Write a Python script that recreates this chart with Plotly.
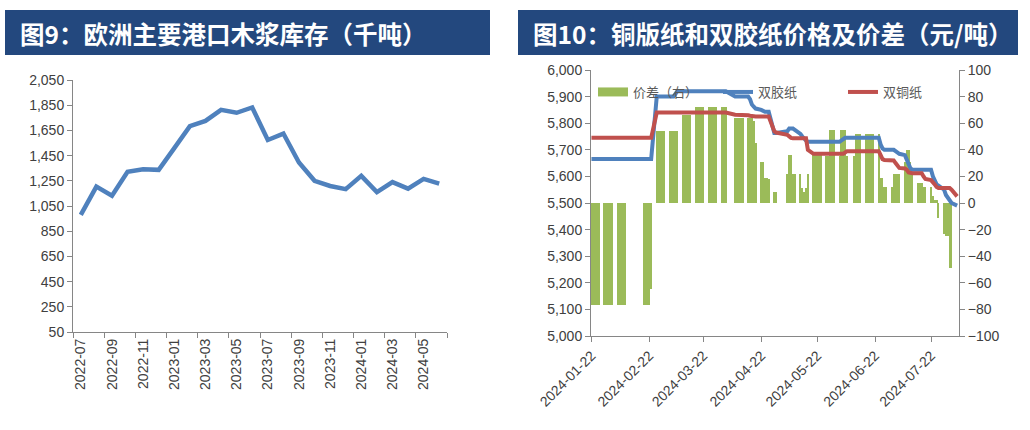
import pandas as pd
import plotly.graph_objects as go

# ---------------- Left chart data ----------------
inv_months = ["2022-07", "2022-08", "2022-09", "2022-10", "2022-11", "2022-12",
              "2023-01", "2023-02", "2023-03", "2023-04", "2023-05", "2023-06",
              "2023-07", "2023-08", "2023-09", "2023-10", "2023-11", "2023-12",
              "2024-01", "2024-02", "2024-03", "2024-04", "2024-05", "2024-06"]
inv_values = [979, 1204, 1132, 1322, 1342, 1337, 1509, 1684, 1725, 1813, 1790, 1832,
              1574, 1625, 1395, 1250, 1209, 1184, 1289, 1160, 1240, 1188, 1265, 1228]

# ---------------- Right chart data (weekdays, Mon..Fri) ----------------
N = None
spread_weeks = [
    [-77, -77, -77, -77, -77], [-77, -77, -77, -77, -77], [-77, -77, -77, -77, -77],
    [N, N, N, N, N], [-77, -77, -77, -77, -65],
    [54, 54, 54, 54, 54], [54, 54, 54, 54, 54], [66, 66, 66, 66, 66],
    [72, 72, 72, 72, 72], [72, 72, 72, 72, 72], [72, 72, 72, N, N],
    [64, 64, 64, 64, 64], [64, 64, 64, 62, 45], [31, 31, 19, 19, 18],
    [8, 8, N, N, N], [22, 36, 36, 22, 22], [22, 11, 8, 11, 22],
    [36, 36, 36, 36, 36], [35, 35, 55, 55, 55], [35, 55, 55, 55, 35],
    [N, 35, 52, 52, 52], [52, 52, 52, 52, 52], [52, 19, 19, 12, 12],
    [12, 22, 22, 22, 22], [31, 40, 40, 31, 22], [15, 15, 15, 12, 12],
    [12, 5, 2, 2, -11], [-23, -25, -25, -49, -49], [N],
]
offset_weeks = [  # 双胶纸
    [5665] * 5, [5665] * 5, [5665] * 5, [N] * 5, [5665] * 5,
    [5900] * 5, [5900, 5900, 5900, 5910, 5920], [5920] * 5, [5920] * 5, [5920] * 5,
    [5920, 5920, 5920, N, N], [5900] * 5, [5900, 5890, 5870, 5862, 5855],
    [5850, 5845, 5843, 5843, 5843], [5763, 5763, N, N, N],
    [5770, 5780, 5780, 5780, 5775], [5760, 5750, 5740, 5735, 5730],
    [5730] * 5, [5730] * 5, [5730, 5735, 5740, 5745, 5745], [N, 5745, 5745, 5745, 5745],
    [5745] * 5, [5745, 5720, 5705, 5700, 5700], [5700, 5700, 5695, 5690, 5685],
    [5680, 5660, 5640, 5630, 5625], [5625] * 5, [5625, 5600, 5580, 5570, 5565],
    [5550, 5530, 5520, 5510, 5500], [5490],
]
coated_weeks = [  # 双铜纸
    [5745] * 5, [5745] * 5, [5745] * 5, [N] * 5, [5745] * 5,
    [5840] * 5, [5840] * 5, [5840] * 5, [5840] * 5, [5840] * 5,
    [5840, 5840, 5840, N, N], [5832] * 5, [5830, 5828, 5826, 5825, 5825],
    [5825] * 5, [5770, 5765, N, N, N],
    [5756, 5750, 5745, 5743, 5743], [5743, 5743, 5743, 5743, 5700],
    [5685] * 5, [5682] * 5, [5682, 5682, 5685, 5690, 5695], [N, 5695, 5695, 5695, 5695],
    [5695] * 5, [5695, 5680, 5665, 5662, 5662], [5662, 5660, 5650, 5640, 5632],
    [5630, 5625, 5615, 5612, 5612], [5612, 5612, 5612, 5600, 5590],
    [5586, 5580, 5570, 5560, 5556], [5556, 5556, 5556, 5556, 5550], [5525],
]
price_dates = pd.bdate_range("2024-01-22", "2024-08-05")
spread = [v for w in spread_weeks for v in w]
offset_paper = [v for w in offset_weeks for v in w]
coated_paper = [v for w in coated_weeks for v in w]
date_ticks = ["2024-01-22", "2024-02-22", "2024-03-22", "2024-04-22",
              "2024-05-22", "2024-06-22", "2024-07-22"]

W, H = 1030, 430
def px_x(p):
    return p / W
def px_y(p):
    return 1 - p / H

AX = "#868686"
TXT = "#404040"
TFONT = dict(family="Liberation Sans, Arial, sans-serif", size=14, color=TXT)
TITLE_BG = "#23487E"

fig = go.Figure()

# left line
fig.add_trace(go.Scatter(
    x=list(range(len(inv_months))), y=inv_values, mode="lines",
    line=dict(color="#4F81BD", width=4.5), showlegend=False,
    xaxis="x", yaxis="y"))

# right bars
fig.add_trace(go.Bar(
    x=price_dates, y=spread, marker=dict(color="#9BBB59", line=dict(width=0)),
    width=0.6 * 86400000, showlegend=False, xaxis="x2", yaxis="y2"))
# legend stand-in for the bar series
fig.add_trace(go.Scatter(
    x=[None], y=[None], mode="lines", name="价差（右）",
    line=dict(color="#9BBB59", width=9), xaxis="x2", yaxis="y3"))
fig.add_trace(go.Scatter(
    x=price_dates, y=offset_paper, mode="lines", name="双胶纸", connectgaps=True,
    line=dict(color="#4F81BD", width=4), xaxis="x2", yaxis="y3"))
fig.add_trace(go.Scatter(
    x=price_dates, y=coated_paper, mode="lines", name="双铜纸", connectgaps=True,
    line=dict(color="#C0504D", width=4), xaxis="x2", yaxis="y3"))

common = dict(showgrid=False, zeroline=False, showline=True, linecolor=AX, linewidth=1,
              tickfont=TFONT, tickcolor=AX, automargin=False)

fig.update_layout(
    width=W, height=H, margin=dict(l=0, r=0, t=0, b=0),
    paper_bgcolor="white", plot_bgcolor="white", bargap=0,
    xaxis=dict(domain=[px_x(73), px_x(447)], range=[-0.5, len(inv_months) - 0.5],
               tickmode="array", tickvals=list(range(0, len(inv_months), 2)),
               ticktext=inv_months[::2], ticks="", tickangle=-90,
               minor=dict(tick0=-0.5, dtick=2, ticks="outside", ticklen=5, tickcolor=AX),
               anchor="y", **common),
    yaxis=dict(domain=[px_y(332), px_y(80)], range=[50, 2050], tickmode="linear",
               tick0=50, dtick=200, tickformat=",", ticks="outside", ticklen=5,
               anchor="x", **common),
    xaxis2=dict(domain=[px_x(591), px_x(959)], type="date",
                range=["2024-01-21 18:00", "2024-08-06"],
                tickmode="array", tickvals=date_ticks, ticktext=date_ticks,
                tickangle=-45, ticks="outside", ticklen=5, anchor="y2", **common),
    yaxis2=dict(domain=[px_y(336), px_y(70)], range=[-100, 100], tickmode="linear",
                tick0=-100, dtick=20, side="right", ticks="outside", ticklen=5,
                anchor="x2", **common),
    yaxis3=dict(range=[5000, 6000], tickmode="linear", tick0=5000, dtick=100,
                tickformat=",", side="left", overlaying="y2", anchor="x2",
                ticks="outside", ticklen=5, **common),
    legend=dict(orientation="h", x=px_x(593), y=px_y(77), xanchor="left", yanchor="top",
                bgcolor="rgba(0,0,0,0)", entrywidth=80,
                font=dict(family="Noto Sans CJK SC", size=13, color="#595959")),
    shapes=[
        dict(type="rect", xref="paper", yref="paper", x0=px_x(5), x1=px_x(490),
             y0=px_y(55), y1=px_y(10), fillcolor=TITLE_BG, line=dict(width=0), layer="below"),
        dict(type="rect", xref="paper", yref="paper", x0=px_x(518), x1=px_x(1018),
             y0=px_y(55), y1=px_y(10), fillcolor=TITLE_BG, line=dict(width=0), layer="below"),
    ],
    annotations=[
        dict(text="<b>图9：欧洲主要港口木浆库存（千吨）</b>", xref="paper", yref="paper",
             x=px_x(18), y=px_y(33), xanchor="left", yanchor="middle", showarrow=False,
             font=dict(family="Noto Sans CJK SC", size=24.5, color="white")),
        dict(text="<b>图10：铜版纸和双胶纸价格及价差（元/吨）</b>", xref="paper", yref="paper",
             x=px_x(531), y=px_y(33), xanchor="left", yanchor="middle", showarrow=False,
             font=dict(family="Noto Sans CJK SC", size=24.5, color="white")),
    ],
)

fig.write_html("out.html", config={"displayModeBar": False},
               post_script="document.body.style.margin='0';")
